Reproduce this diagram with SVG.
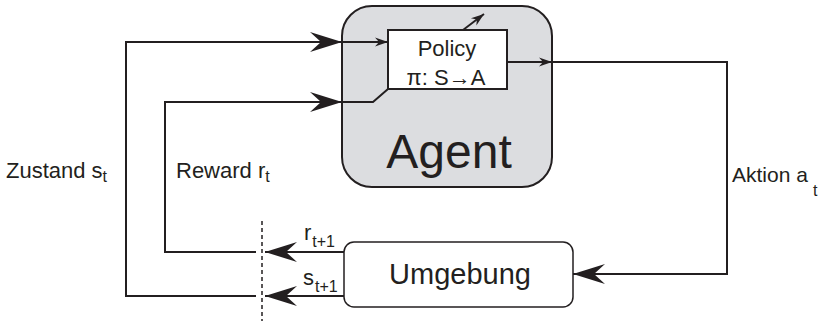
<svg xmlns="http://www.w3.org/2000/svg" width="823" height="322" viewBox="0 0 823 322">
<style>
.ln{fill:none;stroke:#231f20;stroke-width:2;stroke-linejoin:miter}
.tx{font-family:"Liberation Sans",Arial,sans-serif;fill:#231f20}
.sub{font-size:16px}
</style>
<defs>
<marker id="big" markerUnits="userSpaceOnUse" viewBox="-34 -12 36 24" markerWidth="36" markerHeight="24" refX="0" refY="0" orient="auto">
<path d="M0,0 L-32,-10 L-21,0 L-32,10 Z" fill="#231f20"/>
</marker>
<marker id="small" markerUnits="userSpaceOnUse" viewBox="-14 -6 16 12" markerWidth="16" markerHeight="12" refX="0" refY="0" orient="auto">
<path d="M0,0 L-13,-4.5 L-9,0 L-13,4.5 Z" fill="#231f20"/>
</marker>
</defs>
<rect width="823" height="322" fill="#fff"/>
<g id="agent">
<rect x="342" y="6" width="210" height="181" rx="30" ry="30" fill="#dcdde0" stroke="#231f20" stroke-width="2"/>
<text class="tx" x="449" y="168" font-size="48" text-anchor="middle">Agent</text>
</g>
<g id="policy">
<rect x="388" y="30" width="119" height="59" fill="#fff" stroke="#231f20" stroke-width="2"/>
<text class="tx" x="447" y="56" font-size="22" text-anchor="middle">Policy</text>
<text class="tx" x="446" y="85" font-size="22" text-anchor="middle">π: S→A</text>
</g>
<g id="umgebung">
<rect x="344" y="242" width="229" height="65" rx="10" ry="10" fill="#fff" stroke="#231f20" stroke-width="1.5"/>
<text class="tx" x="460" y="284" font-size="29" text-anchor="middle">Umgebung</text>
</g>
<g id="connectors">
<path class="ln" d="M256,296 L126,296 L126,42 L342,42" marker-end="url(#big)"/>
<path class="ln" d="M342,42 L388,42" marker-end="url(#small)"/>
<path class="ln" d="M256,252 L165,252 L165,102 L342,102" marker-end="url(#big)"/>
<path class="ln" d="M342,102 L373,102 L388,89"/>
<path class="ln" d="M507,62 L552,62" marker-end="url(#small)"/>
<path class="ln" d="M552,62 L727,62 L727,274 L573,274" marker-end="url(#big)"/>
<path class="ln" d="M344,252 L265,252" marker-end="url(#big)"/>
<path class="ln" d="M344,296 L265,296" marker-end="url(#big)"/>
<path class="ln" d="M463,30 L484,14" marker-end="url(#small)" stroke-width="1.5"/>
<line x1="262" y1="221" x2="262" y2="321" stroke="#231f20" stroke-width="1.5" stroke-dasharray="4,3"/>
</g>
<g id="labels">
<text class="tx" x="6" y="178" font-size="22">Zustand s<tspan class="sub" dy="4">t</tspan></text>
<text class="tx" x="176" y="178" font-size="22">Reward r<tspan class="sub" dy="4">t</tspan></text>
<text class="tx" x="732" y="182" font-size="21">Aktion a<tspan class="sub" dy="14" dx="5">t</tspan></text>
<text class="tx" x="304" y="240" font-size="22">r<tspan class="sub" dy="7" dx="1">t+1</tspan></text>
<text class="tx" x="303" y="285" font-size="22">s<tspan class="sub" dy="7" dx="1">t+1</tspan></text>
</g>
</svg>
